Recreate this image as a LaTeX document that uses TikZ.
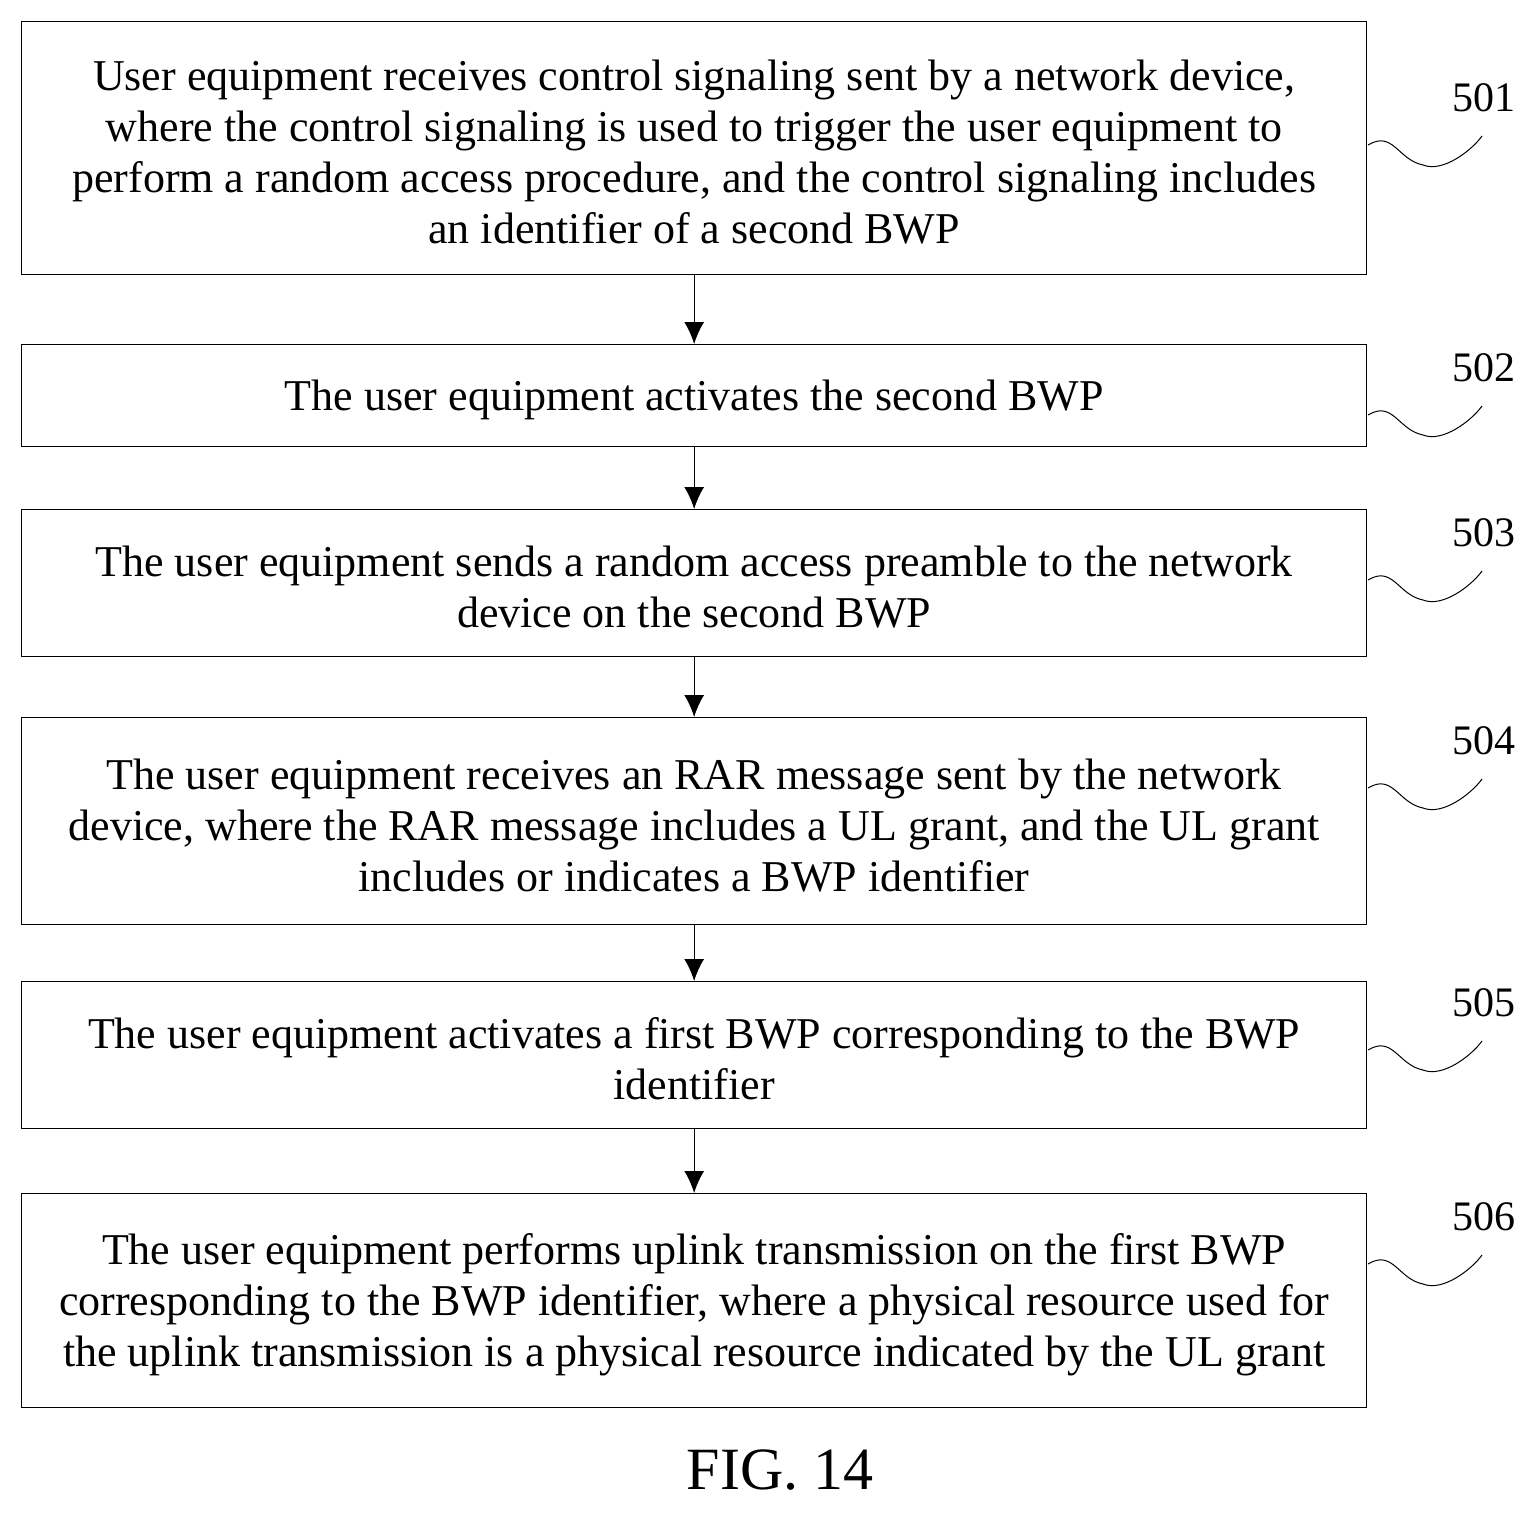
\documentclass[tikz,border=0pt]{standalone}
\usepackage{fontspec}
\setmainfont{Liberation Serif}
\usetikzlibrary{arrows.meta}
\begin{document}
\begin{tikzpicture}[x=1pt,y=-1pt,
 box/.style={draw,line width=1.3pt,inner sep=0pt},
 txt/.style={align=center,font=\fontsize{44}{51}\selectfont},
 arr/.style={-{Latex[length=22pt,width=20pt]},line width=1.3pt},
 lab/.style={font=\fontsize{42}{46}\selectfont},
 sq/.style={line width=1pt}]
\useasboundingbox (0,0) rectangle (1538,1512);
\newcommand\mystep[4]{\node[box,minimum width=1345pt,minimum height=#3,anchor=north west] (b#1) at (21,#2) {};
 \node[txt] (t#1) at ([yshift=-4pt]b#1.center) {#4};}
\mystep{1}{21}{253pt}{User equipment receives control signaling sent by a network device,\\ where the control signaling is used to trigger the user equipment to\\ perform a random access procedure, and the control signaling includes\\ an identifier of a second BWP}
\mystep{2}{344}{102pt}{The user equipment activates the second BWP}
\mystep{3}{509}{147pt}{The user equipment sends a random access preamble to the network\\ device on the second BWP}
\mystep{4}{717}{207pt}{The user equipment receives an RAR message sent by the network\\ device, where the RAR message includes a UL grant, and the UL grant\\ includes or indicates a BWP identifier}
\mystep{5}{981}{147pt}{The user equipment activates a first BWP corresponding to the BWP\\ identifier}
\mystep{6}{1193}{214pt}{The user equipment performs uplink transmission on the first BWP\\ corresponding to the BWP identifier, where a physical resource used for\\ the uplink transmission is a physical resource indicated by the UL grant}
\foreach \a/\b in {1/2,2/3,3/4,4/5,5/6} \draw[arr] (b\a.south) -- (b\b.north);
\foreach \i/\y in {1/98,2/368,3/533,4/741,5/1003,6/1217}{
 \node[lab] (l\i) at (1484,\y) {50\i};
 \coordinate (s\i) at (1368,\y+47);
 \coordinate (e\i) at (1482,\y+38);
 \draw[sq] (s\i) .. controls ++(25,-15) and ++(-25,-5) .. ++(55,20) .. controls ++(20,8) and ++(-10,14) .. (e\i);
}
\node[font=\fontsize{60}{66}\selectfont] (fig) at (780,1470) {FIG. 14};
\end{tikzpicture}
\end{document}
